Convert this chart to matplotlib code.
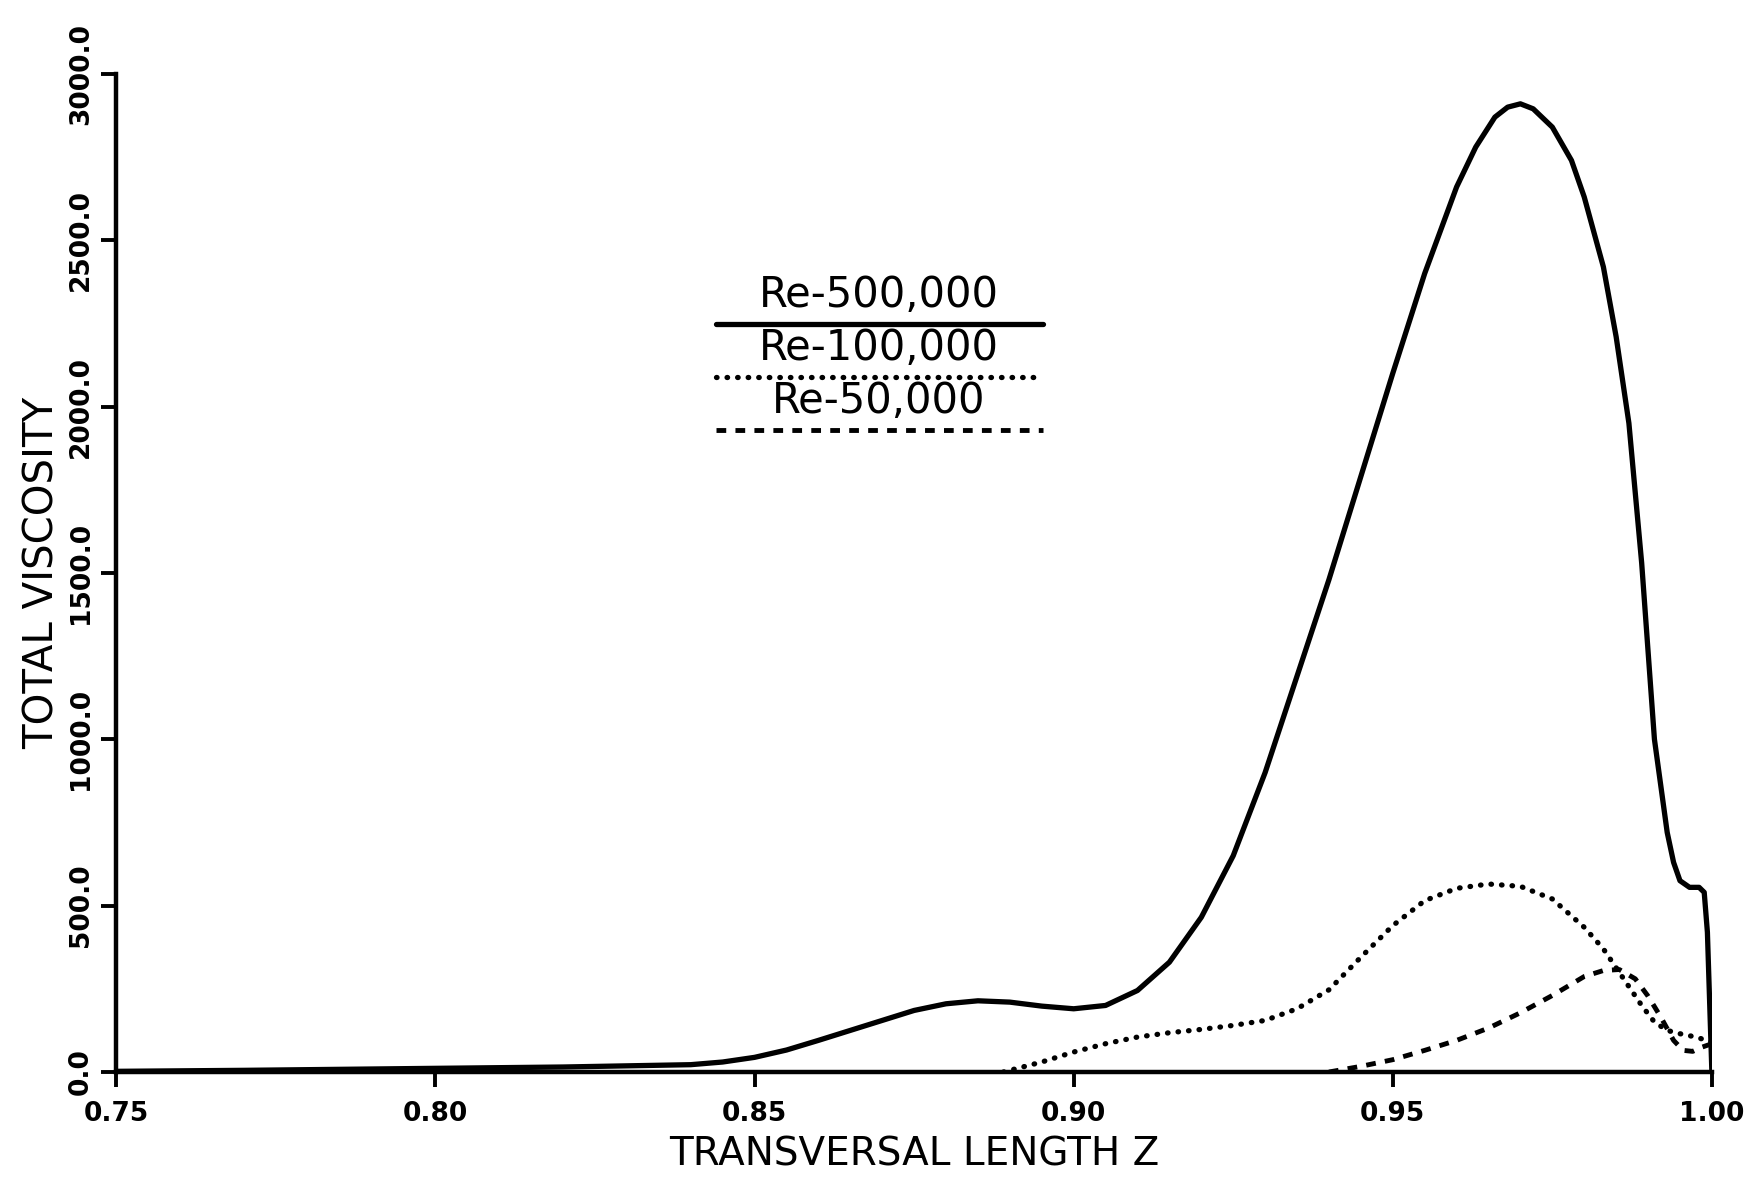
import matplotlib
matplotlib.use("Agg")
import matplotlib.pyplot as plt

# ---- data ----
z_500k = [0.75, 0.77, 0.79, 0.80, 0.82, 0.84, 0.845, 0.85, 0.855, 0.86, 0.865, 0.87,
          0.875, 0.88, 0.885, 0.89, 0.895, 0.90, 0.905, 0.91, 0.915, 0.92, 0.925,
          0.93, 0.935, 0.94, 0.945, 0.95, 0.955, 0.96, 0.963, 0.966, 0.968, 0.970,
          0.972, 0.975, 0.978, 0.980, 0.983, 0.985, 0.987, 0.989, 0.991, 0.993,
          0.994, 0.995, 0.9965, 0.998, 0.9988, 0.9993, 0.9997, 1.0]
v_500k = [2, 5, 9, 11, 15, 22, 30, 44, 66, 95, 125, 155,
          185, 205, 214, 210, 198, 190, 200, 245, 330, 465, 650,
          900, 1190, 1480, 1790, 2100, 2400, 2660, 2780, 2870, 2900, 2910,
          2895, 2840, 2740, 2630, 2420, 2210, 1950, 1530, 1000, 720,
          630, 575, 555, 555, 540, 420, 180, 0]

z_100k = [0.889, 0.895, 0.90, 0.905, 0.91, 0.915, 0.92, 0.925, 0.93, 0.935, 0.94,
          0.945, 0.95, 0.955, 0.96, 0.965, 0.97, 0.975, 0.98, 0.983, 0.986,
          0.989, 0.991, 0.993, 0.995, 0.9975, 1.0]
v_100k = [0, 30, 60, 85, 105, 118, 128, 140, 155, 190, 247,
          345, 440, 515, 552, 565, 558, 520, 435, 370, 285,
          200, 150, 125, 115, 105, 90]

z_50k = [0.94, 0.945, 0.95, 0.955, 0.96, 0.965, 0.97, 0.975, 0.98, 0.983, 0.9855,
         0.988, 0.990, 0.992, 0.994, 0.9955, 0.997, 0.9985, 1.0]
v_50k = [0, 17, 37, 65, 95, 132, 178, 230, 287, 305, 308,
         280, 228, 165, 95, 65, 62, 75, 85]

x_ticks = [0.75, 0.80, 0.85, 0.90, 0.95, 1.00]
x_ticklabels = ["0.75", "0.80", "0.85", "0.90", "0.95", "1.00"]
y_ticks = [0, 500, 1000, 1500, 2000, 2500, 3000]
y_ticklabels = ["0.0", "500.0", "1000.0", "1500.0", "2000.0", "2500.0", "3000.0"]
legend_labels = ["Re-500,000", "Re-100,000", "Re-50,000"]

# ---- figure ----
plt.rcParams['font.family'] = ['DejaVu Sans']
fig = plt.figure(figsize=(17.63, 11.84), dpi=100)
ax = fig.add_axes([0.066, 0.0946, 0.905, 0.843])

dot_style = dict(linestyle=(0, (0.1, 1.9)), lw=3.8, dash_capstyle='round')
dash_style = dict(linestyle=(0, (2.0, 1.9)), lw=3.5)
solid_style = dict(linestyle='-', lw=3.8, solid_capstyle='round')

ax.plot(z_500k, v_500k, color='black', **solid_style)
ax.plot(z_100k, v_100k, color='black', **dot_style)
ax.plot(z_50k, v_50k, color='black', **dash_style)

ax.set_xlim(0.75, 1.0)
ax.set_ylim(0, 3000)
for s in ['top', 'right']:
    ax.spines[s].set_visible(False)
for s in ['left', 'bottom']:
    ax.spines[s].set_linewidth(3.2)

ax.set_xticks(x_ticks)
ax.set_xticklabels(x_ticklabels, fontsize=19, fontweight='bold')
ax.set_yticks(y_ticks)
ax.set_yticklabels(y_ticklabels, fontsize=19, fontweight='bold', rotation=90,
                   va='center')
ax.tick_params(axis='x', direction='out', length=11, width=2.8, pad=10)
ax.tick_params(axis='y', direction='out', length=11, width=2.8, pad=5)

ax.set_xlabel("TRANSVERSAL LENGTH Z", fontsize=28, labelpad=6)
ax.set_ylabel("TOTAL VISCOSITY", fontsize=29, labelpad=4)

# legend drawn as text over line samples
leg_y = [0.749, 0.696, 0.643]
leg_styles = [solid_style, dot_style, dash_style]
for lab, yy, st in zip(legend_labels, leg_y, leg_styles):
    ax.plot([0.376, 0.581], [yy, yy], color='black', transform=ax.transAxes,
            clip_on=False, **st)
    ax.text(0.478, yy + 0.008, lab, transform=ax.transAxes, ha='center',
            va='bottom', fontsize=30)

fig.savefig("out.png", dpi=100)
